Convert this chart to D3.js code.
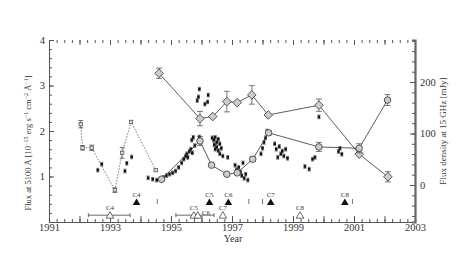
<!DOCTYPE html>
<html>
<head>
<meta charset="utf-8">
<script src="https://cdn.jsdelivr.net/npm/d3@7"></script>
<style>
  body { margin: 0; background: #fff; }
  text { font-family: "Liberation Serif", "DejaVu Serif", serif; fill: #333; }
</style>
</head>
<body>
<div class="container"></div>
<script>
const width = 465, height = 262;

// early optical light curve (open squares, dotted line): [year, flux, err]
const earlyCurve = [
    [1992.04, 2.15, 0.08], [1992.10, 1.63, 0.05], [1992.40, 1.63, 0.06],
    [1993.16, 0.70, 0.05], [1993.40, 1.52, 0.12], [1993.69, 2.20, 0],
    [1994.50, 1.14, 0]
];

// optical monitoring (small filled squares): [year, flux]
const optical = [
    [1992.60, 1.14], [1992.73, 1.27], [1993.49, 1.12], [1993.55, 1.29], [1993.71, 1.43],
    [1994.25, 0.97], [1994.40, 0.94], [1994.53, 0.92],
    [1994.75, 0.98], [1994.85, 1.02], [1994.95, 1.05], [1995.05, 1.08], [1995.15, 1.12],
    [1995.25, 1.20], [1995.35, 1.30], [1995.42, 1.38], [1995.48, 1.45], [1995.52, 1.50],
    [1995.55, 1.42], [1995.60, 1.55], [1995.65, 1.60], [1995.70, 1.52], [1995.68, 1.80],
    [1995.73, 1.86], [1995.93, 1.87], [1995.78, 1.68],
    [1995.86, 2.67], [1995.90, 2.75], [1995.93, 2.92], [1996.11, 2.59], [1996.20, 2.64], [1996.22, 2.79],
    [1996.35, 1.85], [1996.40, 1.80], [1996.45, 1.86], [1996.50, 1.75], [1996.55, 1.82],
    [1996.42, 1.70], [1996.50, 1.65], [1996.60, 1.72], [1996.45, 1.60], [1996.55, 1.57],
    [1996.65, 1.62], [1996.60, 1.50], [1996.70, 1.45], [1996.86, 1.42],
    [1997.10, 1.25], [1997.15, 1.15], [1997.22, 1.20], [1997.28, 1.10], [1997.32, 1.02],
    [1997.40, 0.96], [1997.45, 1.05], [1997.36, 1.30], [1997.52, 0.92],
    [1997.95, 1.50], [1998.00, 1.62], [1998.05, 1.75], [1998.10, 1.85], [1998.15, 2.00],
    [1998.40, 1.72], [1998.45, 1.60], [1998.55, 1.66], [1998.60, 1.50], [1998.65, 1.56],
    [1998.70, 1.45], [1998.76, 1.60], [1998.82, 1.40], [1998.50, 1.42],
    [1999.39, 1.22], [1999.53, 1.16], [1999.64, 1.38], [1999.72, 1.42], [1999.85, 2.31],
    [2000.49, 1.55], [2000.54, 1.62], [2000.60, 1.49]
];

// mean optical flux (grey circles, solid line): [year, flux, err]
const opticalMean = [
    [1994.69, 0.94, 0.03], [1995.95, 1.78, 0.10], [1996.33, 1.25, 0.03],
    [1996.83, 1.05, 0.03], [1997.17, 1.08, 0.04], [1997.68, 1.38, 0.05],
    [1998.20, 1.96, 0.05], [1999.85, 1.65, 0.10], [2001.17, 1.62, 0.10],
    [2002.10, 2.68, 0.12]
];

// 15 GHz radio flux density (grey diamonds, solid line): [year, mJy, err]
const radio = [
    [1994.61, 217, 10], [1995.95, 129, 14], [1996.37, 133, 0], [1996.83, 162, 20],
    [1997.17, 160, 0], [1997.65, 175, 18], [1998.19, 136, 0], [1999.85, 155, 12],
    [2001.17, 60, 0], [2002.11, 16, 10]
];

// component ejection epochs
const ejectFilled = [
    ['C4', 1993.87], ['C5', 1996.26], ['C6', 1996.88], ['C7', 1998.27], ['C8', 2000.70]
];
const ejectOpen = [
    ['C4', 1993.00, 1992.29, 1993.66], ['C5', 1995.75, 1995.16, 1996.41],
    ['C6', 1995.88, null, null], ['C7', 1996.70, null, null], ['C8', 1999.23, null, null]
];
const smallMarks = [1994.55, 1997.55, 1998.00, 2000.95];

const yearLabels = [1991, 1993, 1995, 1997, 1999, 2001, 2003];
const leftTicks = [1, 2, 3, 4];
const rightTicks = [0, 100, 200];

const x = d3.scaleLinear().domain([1991, 2003]).range([49, 415]);
const y = d3.scaleLinear().domain([0, 4]).range([222, 40]);
const yR = d3.scaleLinear().domain([-71.8, 281.6]).range([222, 40]);

const svg = d3.select('.container')
    .append('svg')
    .attr('width', width)
    .attr('height', height);

const axisColor = '#555';
const labelStyle = g => g.selectAll('text').style('font-size', '10.5px')
    .style('font-family', '"Liberation Serif", serif').attr('fill', '#333');

// bottom axis
svg.append('g')
    .attr('transform', 'translate(0,222)')
    .call(d3.axisBottom(x).tickValues(d3.range(1991, 2003.01, 0.25)).tickSize(-3).tickFormat(''))
    .call(g => g.select('.domain').attr('stroke', axisColor).attr('stroke-width', 1.2));
svg.append('g')
    .attr('transform', 'translate(0,222)')
    .call(d3.axisBottom(x).tickValues(d3.range(1991, 2004)).tickSize(-6)
        .tickFormat(d => yearLabels.includes(d) ? d : ''))
    .call(g => g.select('.domain').remove())
    .call(labelStyle)
    .call(g => g.selectAll('text').attr('y', 2));

// top ticks (no line visible)
svg.append('g')
    .attr('transform', 'translate(0,40)')
    .call(d3.axisTop(x).tickValues(d3.range(1991, 2003.01, 0.25)).tickSize(-3).tickFormat(''))
    .call(g => g.select('.domain').remove())
    .call(g => g.selectAll('line').attr('stroke', '#777'));
svg.append('g')
    .attr('transform', 'translate(0,40)')
    .call(d3.axisTop(x).tickValues(d3.range(1991, 2004)).tickSize(-5).tickFormat(''))
    .call(g => g.select('.domain').remove())
    .call(g => g.selectAll('line').attr('stroke', '#555'));

// left axis
svg.append('g')
    .attr('transform', 'translate(49,0)')
    .call(d3.axisLeft(y).tickValues(d3.range(0, 4.01, 0.2)).tickSize(-3).tickFormat(''))
    .call(g => g.select('.domain').attr('stroke', axisColor));
svg.append('g')
    .attr('transform', 'translate(49,0)')
    .call(d3.axisLeft(y).tickValues(leftTicks).tickSizeInner(-5).tickSizeOuter(0)
        .tickFormat(d3.format('d')))
    .call(g => g.select('.domain').remove())
    .call(labelStyle)
    .call(g => g.selectAll('text').attr('x', -4));

// right axis
svg.append('g')
    .attr('transform', 'translate(415,0)')
    .call(d3.axisRight(yR).tickValues(d3.range(-60, 281, 20)).tickSize(-3).tickFormat(''))
    .call(g => g.select('.domain').attr('stroke', '#666').attr('stroke-width', 2.2));
svg.append('g')
    .attr('transform', 'translate(415,0)')
    .call(d3.axisRight(yR).tickValues(rightTicks).tickSizeInner(-5).tickSizeOuter(0)
        .tickFormat(d3.format('d')))
    .call(g => g.select('.domain').remove())
    .call(labelStyle)
    .call(g => g.selectAll('text').attr('x', 5));
svg.selectAll('.tick line').attr('stroke', axisColor);

// axis titles
svg.append('text')
    .attr('x', 233).attr('y', 242)
    .attr('text-anchor', 'middle')
    .style('font-size', '10px')
    .text('Year');

const leftTitle = svg.append('text')
    .attr('transform', 'translate(31,143) rotate(-90)')
    .attr('text-anchor', 'middle')
    .style('font-size', '8.5px');
leftTitle.append('tspan').text('Flux at 5100 Å [10');
leftTitle.append('tspan').attr('dy', -3).style('font-size', '6px').text('−15');
leftTitle.append('tspan').attr('dy', 3).text(' erg s');
leftTitle.append('tspan').attr('dy', -3).style('font-size', '6px').text('−1');
leftTitle.append('tspan').attr('dy', 3).text(' cm');
leftTitle.append('tspan').attr('dy', -3).style('font-size', '6px').text('−2');
leftTitle.append('tspan').attr('dy', 3).text(' Å');
leftTitle.append('tspan').attr('dy', -3).style('font-size', '6px').text('−1');
leftTitle.append('tspan').attr('dy', 3).text(']');

svg.append('text')
    .attr('transform', 'translate(446,131) rotate(-90)')
    .attr('text-anchor', 'middle')
    .style('font-size', '9px')
    .text('Flux density at 15 GHz [mJy]');

// error bar helper
function errorBars(data, scale, cap) {
    const g = svg.append('g').attr('stroke', '#444').attr('stroke-width', 0.7);
    data.filter(d => d[2] > 0).forEach(d => {
        const cx = x(d[0]), y0 = scale(d[1] - d[2]), y1 = scale(d[1] + d[2]);
        g.append('line').attr('x1', cx).attr('x2', cx).attr('y1', y0).attr('y2', y1);
        g.append('line').attr('x1', cx - cap).attr('x2', cx + cap).attr('y1', y0).attr('y2', y0);
        g.append('line').attr('x1', cx - cap).attr('x2', cx + cap).attr('y1', y1).attr('y2', y1);
    });
}

// early dotted curve
svg.append('path')
    .datum(earlyCurve)
    .attr('fill', 'none')
    .attr('stroke', '#555')
    .attr('stroke-width', 0.8)
    .attr('stroke-dasharray', '1.5,1.5')
    .attr('d', d3.line().x(d => x(d[0])).y(d => y(d[1])));
errorBars(earlyCurve, y, 2.5);
svg.append('g').selectAll('rect')
    .data(earlyCurve)
    .enter()
    .append('rect')
    .attr('x', d => x(d[0]) - 1.7).attr('y', d => y(d[1]) - 1.7)
    .attr('width', 3.4).attr('height', 3.4)
    .attr('fill', '#ddd').attr('stroke', '#444').attr('stroke-width', 0.7);

// optical monitoring points
errorBars(optical.map(d => [d[0], d[1], 0.04]), y, 1.6);
svg.append('g').selectAll('rect')
    .data(optical)
    .enter()
    .append('rect')
    .attr('x', d => x(d[0]) - 1.3).attr('y', d => y(d[1]) - 1.3)
    .attr('width', 2.6).attr('height', 2.6)
    .attr('fill', '#111');

// radio curve
svg.append('path')
    .datum(radio)
    .attr('fill', 'none')
    .attr('stroke', '#333')
    .attr('stroke-width', 0.8)
    .attr('d', d3.line().x(d => x(d[0])).y(d => yR(d[1])));
errorBars(radio, yR, 3);
svg.append('g').selectAll('path')
    .data(radio)
    .enter()
    .append('path')
    .attr('transform', d => `translate(${x(d[0])},${yR(d[1])})`)
    .attr('d', 'M0,-4.3L4.3,0L0,4.3L-4.3,0Z')
    .attr('fill', '#ccc').attr('stroke', '#333').attr('stroke-width', 0.8);

// mean optical curve
svg.append('path')
    .datum(opticalMean)
    .attr('fill', 'none')
    .attr('stroke', '#333')
    .attr('stroke-width', 0.8)
    .attr('d', d3.line().x(d => x(d[0])).y(d => y(d[1])));
errorBars(opticalMean, y, 3);
svg.append('g').selectAll('circle')
    .data(opticalMean)
    .enter()
    .append('circle')
    .attr('cx', d => x(d[0])).attr('cy', d => y(d[1]))
    .attr('r', 3.3)
    .attr('fill', '#ccc').attr('stroke', '#333').attr('stroke-width', 0.8);

// ejection epochs
const triY = 0.44, triOpenY = 0.15;
const tri = 'M0,-3.5L3.8,3L-3.8,3Z';
svg.append('g').selectAll('path')
    .data(ejectFilled)
    .enter()
    .append('path')
    .attr('transform', d => `translate(${x(d[1])},${y(triY)})`)
    .attr('d', tri)
    .attr('fill', '#111');
svg.append('g').selectAll('text')
    .data(ejectFilled)
    .enter()
    .append('text')
    .attr('x', d => x(d[1])).attr('y', y(triY) - 5)
    .attr('text-anchor', 'middle')
    .style('font-size', '7px')
    .text(d => d[0]);

const openG = svg.append('g').attr('stroke', '#444').attr('stroke-width', 0.8);
ejectOpen.filter(d => d[2] !== null).forEach(d => {
    openG.append('line').attr('x1', x(d[2])).attr('x2', x(d[3]))
        .attr('y1', y(triOpenY)).attr('y2', y(triOpenY));
    openG.append('line').attr('x1', x(d[2])).attr('x2', x(d[2]))
        .attr('y1', y(triOpenY) - 2).attr('y2', y(triOpenY) + 2);
    openG.append('line').attr('x1', x(d[3])).attr('x2', x(d[3]))
        .attr('y1', y(triOpenY) - 2).attr('y2', y(triOpenY) + 2);
});
svg.append('g').selectAll('path')
    .data(ejectOpen)
    .enter()
    .append('path')
    .attr('transform', d => `translate(${x(d[1])},${y(triOpenY)})`)
    .attr('d', tri)
    .attr('fill', '#fff').attr('stroke', '#444').attr('stroke-width', 0.8);
svg.append('g').selectAll('text')
    .data(ejectOpen)
    .enter()
    .append('text')
    .attr('x', d => x(d[1]) + (d[0] === 'C6' ? 8 : 0))
    .attr('y', d => y(triOpenY) - (d[0] === 'C6' ? 0 : 5))
    .attr('text-anchor', 'middle')
    .style('font-size', '7px')
    .text(d => d[0]);

// small dashes along the ejection row
svg.append('g').selectAll('line')
    .data(smallMarks)
    .enter()
    .append('line')
    .attr('x1', d => x(d)).attr('x2', d => x(d))
    .attr('y1', y(triY) - 3).attr('y2', y(triY) + 2)
    .attr('stroke', '#555').attr('stroke-width', 0.8);
</script>
</body>
</html>
